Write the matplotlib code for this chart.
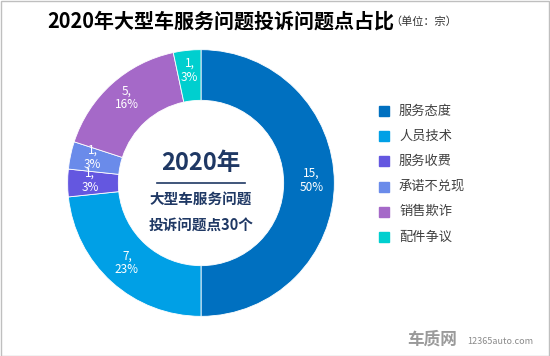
import numpy as np
import matplotlib.pyplot as plt
from matplotlib.patches import Rectangle

plt.rcParams['font.family'] = ['Noto Sans CJK SC', 'DejaVu Sans']

categories = ['服务态度', '人员技术', '服务收费', '承诺不兑现', '销售欺诈', '配件争议']
counts = [15, 7, 1, 1, 5, 1]
percents = ['50%', '23%', '3%', '3%', '16%', '3%']
colors = ['#0070C0', '#00A0E6', '#6457E0', '#6A8BEA', '#A569C8', '#00CFCF']

W, H = 550, 356
fig = plt.figure(figsize=(W / 100, H / 100), dpi=100)
fig.patch.set_facecolor('white')

# pie axes: centre (201, 183) px from top, radius ~133 px
size = 280
ax = fig.add_axes([(201 - size / 2) / W, (H - 183 - size / 2) / H, size / W, size / H])

wedges, _ = ax.pie(counts, colors=colors, startangle=90, counterclock=False,
                   radius=1.0, wedgeprops=dict(width=0.38, edgecolor='white', linewidth=0.6))
ax.set_xlim(-1.05, 1.05)
ax.set_ylim(-1.05, 1.05)
ax.set_aspect('equal')
ax.axis('off')

for w, c, p in zip(wedges, counts, percents):
    ang = np.deg2rad((w.theta1 + w.theta2) / 2)
    r = 0.83
    ax.text(r * np.cos(ang), r * np.sin(ang) + 0.02, f'{c},\n{p}', color='white',
            ha='center', va='center', fontsize=8.5, linespacing=1.05)

# centre text
ax.text(0, 0.15, '2020年', ha='center', va='center', fontsize=17, fontweight='bold',
        color='#1F3864')
ax.plot([-0.33, 0.33], [0.0, 0.0], color='#1F3864', lw=1.2)
ax.text(0, -0.12, '大型车服务问题', ha='center', va='center', fontsize=10.5,
        fontweight='bold', color='#1F3864')
ax.text(0, -0.31, '投诉问题点30个', ha='center', va='center', fontsize=10.5,
        fontweight='bold', color='#1F3864')

# title
fig.text(221 / W, 1 - 21 / H, '2020年大型车服务问题投诉问题点占比', ha='center', va='center',
         fontsize=14.4, fontweight='bold', color='black')
fig.text(390 / W, 1 - 22 / H, '（单位：宗）', ha='left', va='center', fontsize=8,
         color='#333333')

# legend
for i, (cat, col) in enumerate(zip(categories, colors)):
    y = 111 + i * 25.2
    fig.patches.append(Rectangle((379 / W, 1 - (y + 5) / H), 10 / W, 10 / H,
                                 transform=fig.transFigure, color=col))
    fig.text(399 / W, 1 - y / H, cat, ha='left', va='center', fontsize=9.5,
             color='#404040')

# watermark
fig.text(432 / W, 1 - 340 / H, '车质网', ha='center', va='center', fontsize=12,
         fontweight='bold', fontstyle='italic', color='#9A9A9A')
fig.text(467 / W, 1 - 341 / H, '12365auto.com', ha='left', va='center', fontsize=6.5,
         color='#8A8A8A')

# border
fig.patches.append(Rectangle((0.5 / W, 0.5 / H), 1 - 1.5 / W, 1 - 1.5 / H,
                             transform=fig.transFigure, fill=False,
                             edgecolor='#BFBFBF', lw=1))

fig.savefig('out.png', dpi=100)
